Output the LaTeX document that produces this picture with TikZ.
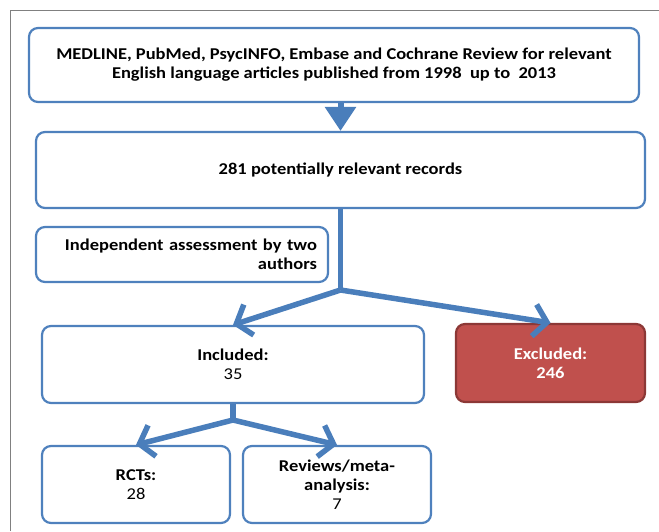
\documentclass[tikz,border=0pt]{standalone}
\usepackage{fontspec}
\setmainfont{Carlito}[FakeStretch=1.12]
\usetikzlibrary{arrows.meta}

\definecolor{boxblue}{HTML}{4F81BD}
\definecolor{arrowblue}{HTML}{4A7EBB}
\definecolor{exred}{HTML}{C0504D}
\definecolor{exredline}{HTML}{8C3836}

\tikzset{
  flowbox/.style={draw=boxblue, line width=2.2pt, rounded corners=9pt, fill=white,
    align=center, font=\fontsize{16.5}{19}\selectfont, inner sep=0pt},
  exbox/.style={flowbox, draw=exredline, fill=exred, text=white},
  mainarrow/.style={arrowblue, line width=6pt, -{Triangle[length=24pt,width=30pt]}},
  brancharrow/.style={arrowblue, line width=5.5pt, -{Straight Barb[length=13pt,width=32pt]}},
  stem/.style={arrowblue, line width=5.5pt}
}

\begin{document}
\begin{tikzpicture}[x=1pt,y=-1pt]
        % page and frame
        \useasboundingbox (0,0) rectangle (659,531);
        \draw[gray, line width=0.8pt] (10,531) -- (10,10) -- (659,10);

        % boxes
        \node[flowbox, minimum width=610pt, minimum height=74pt] (src) at (334,65)
          {\textbf{MEDLINE, PubMed, PsycINFO, Embase and Cochrane Review for relevant}\\
           \textbf{English language articles published from 1998\ \ up to\ \ 2013}};
        \node[flowbox, minimum width=609pt, minimum height=76pt] (recs) at (340.5,170)
          {\textbf{281 potentially relevant records}};
        \node[flowbox, minimum width=292pt, minimum height=55pt, text width=270pt, align=right] (assess) at (182,254.5)
          {\textbf{Independent assessment by two}\\\textbf{authors}};
        \node[flowbox, minimum width=382pt, minimum height=77pt] (incl) at (233,364.5)
          {\textbf{Included:}\\35};
        \node[exbox, minimum width=189pt, minimum height=78pt] (excl) at (550.5,363)
          {\textbf{Excluded:}\\\textbf{246}};
        \node[flowbox, minimum width=188pt, minimum height=77pt] (rct) at (136,484.5)
          {\textbf{RCTs:}\\28};
        \node[flowbox, minimum width=188pt, minimum height=77pt] (rev) at (337,484.5)
          {\textbf{Reviews/meta-}\\\textbf{analysis:}\\7};

        % split points
        \coordinate (split1) at (recs.south |- 0,290);
        \coordinate (split2) at (incl.south |- 0,420);

        % connectors
        \draw[mainarrow] (src.south -| recs.south) -- (recs.north);
        \draw[stem] (recs.south) -- (split1);
        \draw[brancharrow] (split1) -- (incl.north);
        \draw[brancharrow] (split1) -- (excl.north);
        \draw[stem] (incl.south) -- (split2);
        \draw[brancharrow] (split2) -- (rct.north);
        \draw[brancharrow] (split2) -- (rev.north);
\end{tikzpicture}
\end{document}
